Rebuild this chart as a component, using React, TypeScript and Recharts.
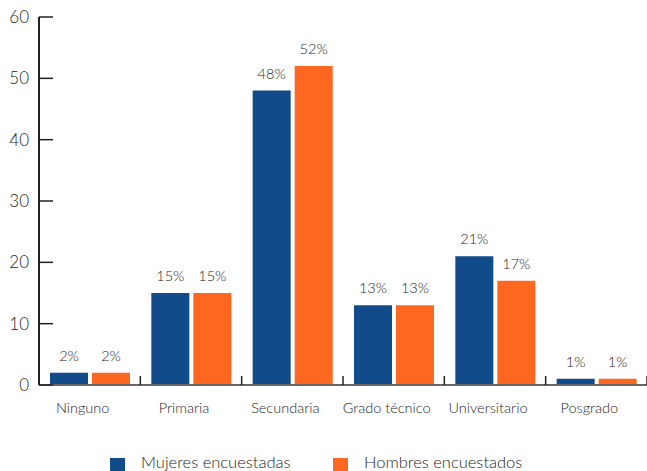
import React from "react";
import { BarChart, Bar, XAxis, YAxis, Legend, LabelList } from "recharts";

const categories = ["Ninguno", "Primaria", "Secundaria", "Grado técnico", "Universitario", "Posgrado"];
const mujeres = [2, 15, 48, 13, 21, 1];
const hombres = [2, 15, 52, 13, 17, 1];
const yTicks = [0, 10, 20, 30, 40, 50, 60];

const data = categories.map((name, i) => ({ name, mujeres: mujeres[i], hombres: hombres[i] }));

const BLUE = "#114b89";
const ORANGE = "#fe6720";
const TEXT = "#262626";
const FONT = "Lato, 'Open Sans', sans-serif";
const WEIGHT = 300;

const W = 647;
const H = 471;
const AXIS_X = 39;
const PLOT_W = W - AXIS_X;
const HALF_STEP = PLOT_W / categories.length / 2;

function XTick(props: any) {
  const { x, y, payload } = props;
  return (
    <g>
      <line x1={x + HALF_STEP} x2={x + HALF_STEP} y1={y - 9} y2={y} stroke="#222" strokeWidth={1.5} />
      {/* labels sit a little left of the bar pair in the original */}
      <text x={x - 7} y={y + 28} textAnchor="middle" fill={TEXT} fontSize={14.5} fontFamily={FONT} fontWeight={WEIGHT}>
        {payload.value}
      </text>
    </g>
  );
}

function YTick(props: any) {
  const { x, y, payload } = props;
  return (
    <g>
      <line x1={x} x2={x + 14} y1={y} y2={y} stroke="#222" strokeWidth={1.5} />
      <text x={x - 10} y={y + 6} textAnchor="end" fill={TEXT} fontSize={17} fontFamily={FONT} fontWeight={WEIGHT}>
        {payload.value}
      </text>
    </g>
  );
}

function LegendBox() {
  const items = [
    { label: "Mujeres encuestadas", color: BLUE, x: 110 },
    { label: "Hombres encuestados", color: ORANGE, x: 333 },
  ];
  return (
    <svg width={W} height={30} style={{ display: "block" }}>
      {items.map((it) => (
        <g key={it.label}>
          <rect x={it.x} y={17} width={15} height={13} fill={it.color} />
          <text x={it.x + 31} y={26.5} fill={TEXT} fontSize={16.5} fontFamily={FONT} fontWeight={WEIGHT}>
            {it.label}
          </text>
        </g>
      ))}
    </svg>
  );
}

export default function App() {
  return (
    <div style={{ position: "absolute", left: 0, top: 0, width: W, height: H, background: "#fff" }}>
      <BarChart
        width={W}
        height={H}
        data={data}
        margin={{ top: 17, right: 0, left: 0, bottom: 0 }}
        barCategoryGap={11}
        barGap={4}
      >
        <XAxis
          dataKey="name"
          height={56}
          tickSize={0}
          tickMargin={0}
          tick={<XTick />}
          axisLine={{ stroke: "#666", strokeWidth: 2 }}
          tickLine={false}
          interval={0}
        />
        <YAxis
          width={AXIS_X}
          domain={[0, 60]}
          ticks={yTicks}
          tickSize={0}
          tickMargin={0}
          tick={<YTick />}
          axisLine={{ stroke: "#222", strokeWidth: 2 }}
          tickLine={false}
          interval={0}
        />
        <Legend verticalAlign="bottom" height={30} content={() => <LegendBox />} wrapperStyle={{ left: 0, bottom: 0 }} />
        <Bar dataKey="mujeres" fill={BLUE} isAnimationActive={false}>
          <LabelList dataKey="mujeres" position="top" offset={12} formatter={(v: any) => `${v}%`} fill={TEXT} fontSize={14.5} fontFamily={FONT} fontWeight={WEIGHT} />
        </Bar>
        <Bar dataKey="hombres" fill={ORANGE} isAnimationActive={false}>
          <LabelList dataKey="hombres" position="top" offset={12} formatter={(v: any) => `${v}%`} fill={TEXT} fontSize={14.5} fontFamily={FONT} fontWeight={WEIGHT} />
        </Bar>
      </BarChart>
    </div>
  );
}
